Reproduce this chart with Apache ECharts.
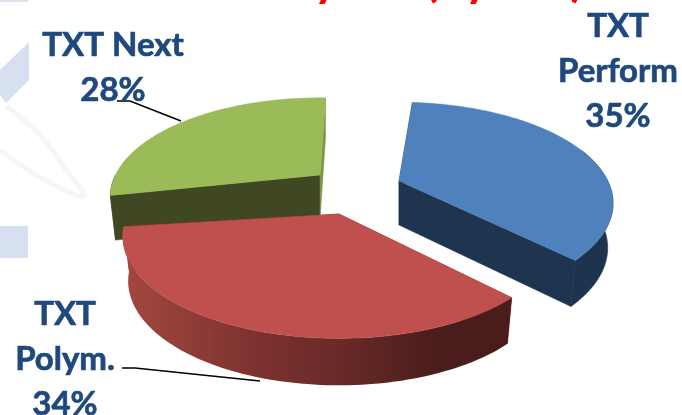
<!DOCTYPE html>
<html>
<head>
<meta charset="utf-8">
<style>html,body{margin:0;padding:0;background:#fff}#chart{width:682px;height:415px}</style>
<script src="https://cdn.jsdelivr.net/npm/echarts@6/dist/echarts.min.js"></script>
</head>
<body>
<div id="chart"></div>
<script>
// Share of volume per technology group, in percent
const categories = ['TXT\nPerform', 'TXT\nPolym.', 'TXT Next'];
const shares = [35, 34, 28];
const chartTitle = 'Shares by TG (by Vol)';

// Pie perspective: far rim is compressed, near rim is stretched
const PERSPECTIVE = 0.22, TILT = 0.46, RADIUS = 212, DEPTH = 44, DEPTH_TAPER = 0.975;

// Each slice sits at its own exploded apex
const sliceStyle = [
  { apex: [399, 181], scale: 0.985, start: 274.5, top: '#4f81bd', cutA: '#1f344f', cutB: '#1e334e', z: 1,
    rim: '#1e334e', label: [618, 31], leader: null },
  { apex: [339, 214], scale: 0.995, start: 46.5, top: '#c0504d', cutA: '#6b2a28', cutB: '#6b2a28', z: 5,
    rim: null, label: [65, 319], leader: [[122, 368], [135, 368], [260, 381]] },
  { apex: [320, 175], scale: 0.965, start: 168, top: '#9bbb59', cutA: '#7d9648', cutB: '#404823', z: 3,
    rim: '#404823', label: [113, 50], leader: [[117, 101], [130, 101], [181, 121]] }
];

const total = shares.reduce((a, b) => a + b, 0);
const rad = d => d * Math.PI / 180;

// Project a point on the slice rim (or apex when r = 0); lower = true gives the underside
function project(style, deg, r, lower) {
  const X = r * Math.cos(rad(deg)), Y = r * Math.sin(rad(deg));
  const w = 1 - PERSPECTIVE * Y;
  const R = RADIUS * style.scale;
  const dx = R * X / w, dy = R * TILT * Y / w;
  if (!lower) return [style.apex[0] + dx, style.apex[1] + dy];
  const drop = DEPTH / (1 - 0.12 * Y);
  return [style.apex[0] + dx * DEPTH_TAPER, style.apex[1] + dy * DEPTH_TAPER + drop];
}

function arc(style, from, to, lower) {
  const pts = [];
  const steps = Math.max(2, Math.ceil(Math.abs(to - from) / 1.5));
  for (let i = 0; i <= steps; i++) pts.push(project(style, from + (to - from) * i / steps, 1, lower));
  return pts;
}

function poly(points, fill, z2, stroke) {
  return { type: 'polygon', z2, shape: { points },
    style: { fill, stroke: stroke || fill, lineWidth: 0.5 } };
}

const rimGradient = new echarts.graphic.LinearGradient(120, 0, 510, 0, [
  { offset: 0, color: '#a5483f' },
  { offset: 0.36, color: '#7b312f' },
  { offset: 0.56, color: '#692a28' },
  { offset: 0.82, color: '#4a1d1c' },
  { offset: 1, color: '#4a1d1c' }
], true);

function renderSlice(params, api) {
  const i = params.dataIndex;
  const s = sliceStyle[i];
  const sweep = api.value(1) / total * 360;
  const a0 = s.start, a1 = s.start + sweep;
  const kids = [];

  // Radial cut faces
  const face = (deg, col, z) => poly([
    project(s, 0, 0, false), project(s, deg, 1, false),
    project(s, deg, 1, true), project(s, 0, 0, true)], col, z);
  kids.push(face(a0, s.cutB, s.z), face(a1, s.cutA, s.z));

  // Outer wall, only the part turned towards the viewer
  const from = a0 > 180 ? Math.max(a0, 340) : a0;
  const to = a0 > 180 ? a1 : Math.min(a1, 180);
  const wall = arc(s, from, to, false).concat(arc(s, from, to, true).reverse());
  kids.push(poly(wall, s.rim || rimGradient, s.z + 1, s.rim || 'none'));

  // Top surface
  const top = [project(s, 0, 0, false)].concat(arc(s, a0, a1, false));
  kids.push(poly(top, s.top, s.z + 2));

  // Leader line and category label
  if (s.leader) {
    kids.push({ type: 'polyline', z2: 10, shape: { points: s.leader },
      style: { stroke: '#000', lineWidth: 1.6, fill: 'none' } });
  }
  const text = categories[i].split('\n').concat(api.value(1) + '%').join('\n');
  kids.push({ type: 'text', z2: 11, x: s.label[0], y: s.label[1] - 27,
    style: { text, fill: '#1f497d', stroke: '#1f497d', lineWidth: 0.7, font: 'bold 33px Lato', align: 'center', verticalAlign: 'top', lineHeight: 45 } });

  return { type: 'group', children: kids };
}

const chart = echarts.init(document.getElementById('chart'), null, { renderer: 'canvas' });
chart.setOption({
  animation: false,
  backgroundColor: '#fff',
  graphic: [
    // Pale backdrop shapes along the left edge
    { type: 'rect', silent: true, z: -1, shape: { x: 0, y: 0, width: 28, height: 2 }, style: { fill: '#dbe4f1' } },
    { type: 'polygon', silent: true, z: -1, shape: { points: [[0, 70], [29, 42], [29, 80], [6, 103], [0, 95]] }, style: { fill: '#d6e0f0' } },
    { type: 'rect', silent: true, z: -1, shape: { x: 0, y: 226, width: 28, height: 32 }, style: { fill: '#d6e0f0' } },
    { type: 'polyline', silent: true, z: -1, shape: { smooth: 0.4, points: [[6, 106], [40, 135], [66, 170], [84, 196], [60, 188], [25, 168], [0, 150]] },
      style: { stroke: '#f4f6fa', lineWidth: 5, fill: 'none' } },
    // Slide heading running off the top edge
    { type: 'text', silent: true, z: 0, x: 134, y: -43,
      style: { text: chartTitle, fill: '#ff0000', font: 'bold 48px Lato', verticalAlign: 'top' } }
  ],
  series: [{
    type: 'custom',
    coordinateSystem: 'none',
    silent: true,
    renderItem: renderSlice,
    data: categories.map((c, i) => [c, shares[i]])
  }]
});
</script>
</body>
</html>
